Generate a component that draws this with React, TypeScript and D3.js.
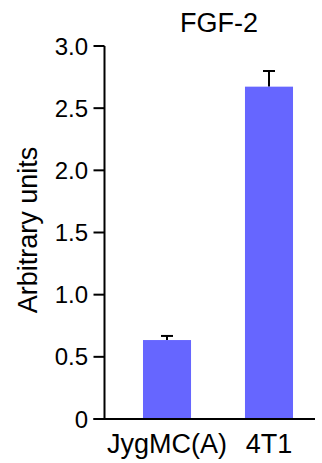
import React from "react";
import * as d3 from "d3";

const categories = ["JygMC(A)", "4T1"];
const values = [0.635, 2.673];
const errors = [0.033, 0.126];
const yTicks = [0, 0.5, 1.0, 1.5, 2.0, 2.5, 3.0];
const title = "FGF-2";
const yLabel = "Arbitrary units";

const W = 322;
const H = 463;
const FONT = "'Liberation Sans', Arial, Helvetica, sans-serif";
const BAR = "#6666FF";

export default function App() {
  const y = d3.scaleLinear().domain([0, 3]).range([419, 46]);
  const x = d3
    .scaleBand<string>()
    .domain(categories)
    .range([105, 331])
    .paddingInner(0.529)
    .paddingOuter(0.3725);
  const axisX = 104.5;
  const fmt = (v: number) => (v === 0 ? "0" : d3.format(".1f")(v));

  return (
    <svg
      width={W}
      height={H}
      style={{ position: "absolute", left: 0, top: 0, display: "block", background: "#fff" }}
    >
      <text x={219} y={31.5} fontFamily={FONT} fontSize={27} textAnchor="middle" fill="#000">
        {title}
      </text>
      <text
        transform={`translate(37,230) rotate(-90)`}
        fontFamily={FONT}
        fontSize={27}
        textAnchor="middle"
        fill="#000"
      >
        {yLabel}
      </text>
      {categories.map((c, i) => {
        const bx = x(c)!;
        const bw = x.bandwidth();
        const cx = bx + bw / 2;
        const top = y(values[i]);
        const et = y(values[i] + errors[i]);
        return (
          <g key={c}>
            <line x1={cx} x2={cx} y1={top} y2={et} stroke="#000" strokeWidth={2} />
            <line x1={cx - 6} x2={cx + 6} y1={et} y2={et} stroke="#000" strokeWidth={2} />
            <rect x={bx} y={top} width={bw} height={y(0) - top} fill={BAR} />
            <text
              x={cx}
              y={453}
              fontFamily={FONT}
              fontSize={27}
              textAnchor="middle"
              fill="#000"
            >
              {c}
            </text>
          </g>
        );
      })}
      <line x1={axisX} x2={axisX} y1={y(3)} y2={y(0)} stroke="#000" strokeWidth={2} />
      <line x1={axisX - 11} x2={315} y1={y(0)} y2={y(0)} stroke="#000" strokeWidth={2} />
      {yTicks.map((t) => (
        <g key={t}>
          <line x1={axisX - 11} x2={axisX} y1={y(t)} y2={y(t)} stroke="#000" strokeWidth={2} />
          <text
            x={88}
            y={y(t)}
            dy="0.36em"
            fontFamily={FONT}
            fontSize={24}
            textAnchor="end"
            fill="#000"
          >
            {fmt(t)}
          </text>
        </g>
      ))}
    </svg>
  );
}
